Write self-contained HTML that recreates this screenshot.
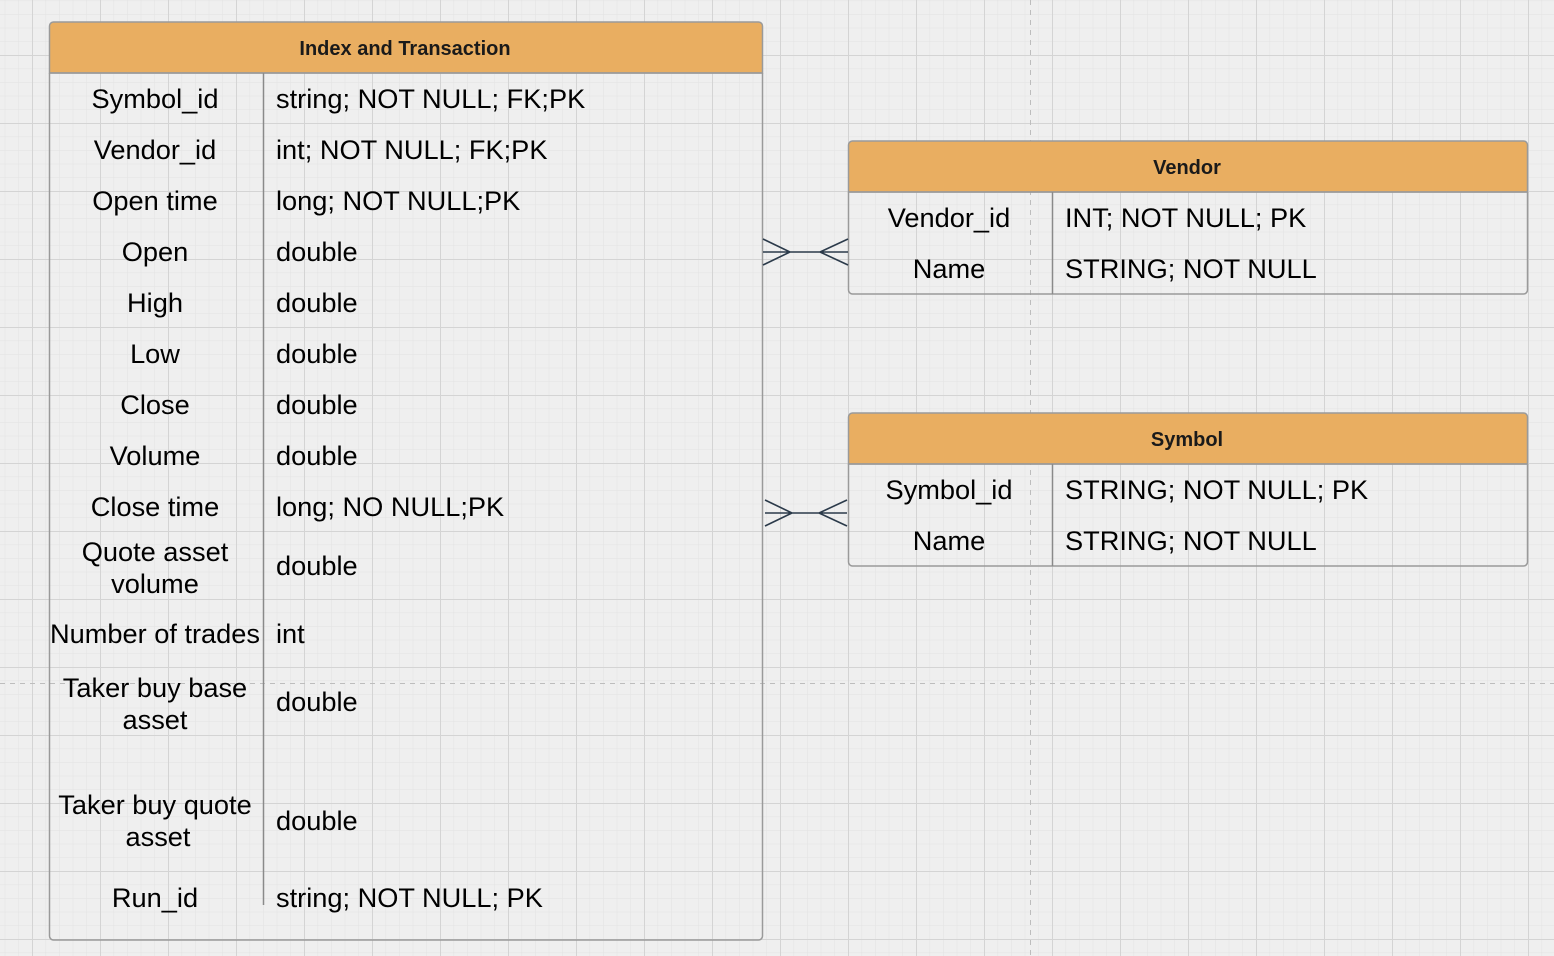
<!DOCTYPE html>
<html><head><meta charset="utf-8"><style>
html,body{margin:0;padding:0;width:1554px;height:956px;overflow:hidden;background:#efefef}
svg{display:block}
text{font-family:"Liberation Sans",Arial,sans-serif;fill:#000}
.r{font-size:27.2px}
.h{font-size:20px;font-weight:bold;fill:#1a1a1a}
</style></head><body>
<svg width="1554" height="956" xmlns="http://www.w3.org/2000/svg">
<defs>
<pattern id="mn" x="32" y="55" width="13.6" height="13.6" patternUnits="userSpaceOnUse">
<path d="M0 0H13.6M0 0V13.6" stroke="#e2e2e2" stroke-width="1" fill="none"/>
</pattern>
<pattern id="mj" x="32" y="55" width="68" height="68" patternUnits="userSpaceOnUse">
<path d="M0 0.5H68M0.5 0V68" stroke="#d4d4d4" stroke-width="1" fill="none"/>
</pattern>
</defs>
<rect width="1554" height="956" fill="#efefef"/>
<rect width="1554" height="956" fill="url(#mn)"/>
<rect width="1554" height="956" fill="url(#mj)"/>
<line x1="1030.5" y1="0" x2="1030.5" y2="956" stroke="#bdbdbd" stroke-dasharray="5,5"/>
<line x1="0" y1="683.5" x2="1554" y2="683.5" stroke="#bdbdbd" stroke-dasharray="5,5"/>

<path d="M49.5 73V26a4 4 0 0 1 4-4h705a4 4 0 0 1 4 4v47z" fill="#e9ae61" stroke="#9a9a9a" stroke-width="1.5"/>
<path d="M49.5 73V936a4 4 0 0 0 4 4h705a4 4 0 0 0 4-4V73" fill="none" stroke="#9a9a9a" stroke-width="1.5"/>
<line x1="49" y1="73" x2="763" y2="73" stroke="#9a9a9a" stroke-width="1.5"/>
<line x1="263.5" y1="73" x2="263.5" y2="905" stroke="#8a8a8a" stroke-width="1.5"/>
<text class="h" x="405" y="55" text-anchor="middle">Index and Transaction</text>
<g class="r" text-anchor="middle">
<text x="155" y="108">Symbol_id</text>
<text x="155" y="159">Vendor_id</text>
<text x="155" y="210">Open time</text>
<text x="155" y="261">Open</text>
<text x="155" y="312">High</text>
<text x="155" y="363">Low</text>
<text x="155" y="414">Close</text>
<text x="155" y="465">Volume</text>
<text x="155" y="516">Close time</text>
<text x="155" y="561">Quote asset</text>
<text x="155" y="593">volume</text>
<text x="155" y="643">Number of trades</text>
<text x="155" y="697">Taker buy base</text>
<text x="155" y="729">asset</text>
<text x="155" y="814">Taker buy quote</text>
<text x="158" y="846">asset</text>
<text x="155" y="907">Run_id</text>
</g>
<g class="r">
<text x="276" y="108">string; NOT NULL; FK;PK</text>
<text x="276" y="159">int; NOT NULL; FK;PK</text>
<text x="276" y="210">long; NOT NULL;PK</text>
<text x="276" y="261">double</text>
<text x="276" y="312">double</text>
<text x="276" y="363">double</text>
<text x="276" y="414">double</text>
<text x="276" y="465">double</text>
<text x="276" y="516">long; NO NULL;PK</text>
<text x="276" y="575">double</text>
<text x="276" y="643">int</text>
<text x="276" y="711">double</text>
<text x="276" y="830">double</text>
<text x="276" y="907">string; NOT NULL; PK</text>
</g>

<path d="M848.5 192V145a4 4 0 0 1 4-4h671a4 4 0 0 1 4 4v47z" fill="#e9ae61" stroke="#9a9a9a" stroke-width="1.5"/>
<path d="M848.5 192V290a4 4 0 0 0 4 4h671a4 4 0 0 0 4-4V192" fill="none" stroke="#9a9a9a" stroke-width="1.5"/>
<line x1="848" y1="192" x2="1528" y2="192" stroke="#9a9a9a" stroke-width="1.5"/>
<line x1="1052.5" y1="192" x2="1052.5" y2="294" stroke="#8a8a8a" stroke-width="1.5"/>
<text class="h" x="1187" y="174" text-anchor="middle">Vendor</text>
<g class="r">
<text x="949" y="227" text-anchor="middle">Vendor_id</text>
<text x="949" y="278" text-anchor="middle">Name</text>
<text x="1065" y="227">INT; NOT NULL; PK</text>
<text x="1065" y="278">STRING; NOT NULL</text>
</g>

<path d="M848.5 464V417a4 4 0 0 1 4-4h671a4 4 0 0 1 4 4v47z" fill="#e9ae61" stroke="#9a9a9a" stroke-width="1.5"/>
<path d="M848.5 464V562a4 4 0 0 0 4 4h671a4 4 0 0 0 4-4V464" fill="none" stroke="#9a9a9a" stroke-width="1.5"/>
<line x1="848" y1="464" x2="1528" y2="464" stroke="#9a9a9a" stroke-width="1.5"/>
<line x1="1052.5" y1="464" x2="1052.5" y2="566" stroke="#8a8a8a" stroke-width="1.5"/>
<text class="h" x="1187" y="446" text-anchor="middle">Symbol</text>
<g class="r">
<text x="949" y="499" text-anchor="middle">Symbol_id</text>
<text x="949" y="550" text-anchor="middle">Name</text>
<text x="1065" y="499">STRING; NOT NULL; PK</text>
<text x="1065" y="550">STRING; NOT NULL</text>
</g>

<g stroke="#2b3a4a" stroke-width="1.6" fill="none">
<path d="M763 252H848M763 239L790 252L763 265M848 239L820 252L848 265"/>
<path d="M765 513H847M765 500L792 513L765 526M847 500L819 513L847 526"/>
</g>
</svg>
</body></html>
